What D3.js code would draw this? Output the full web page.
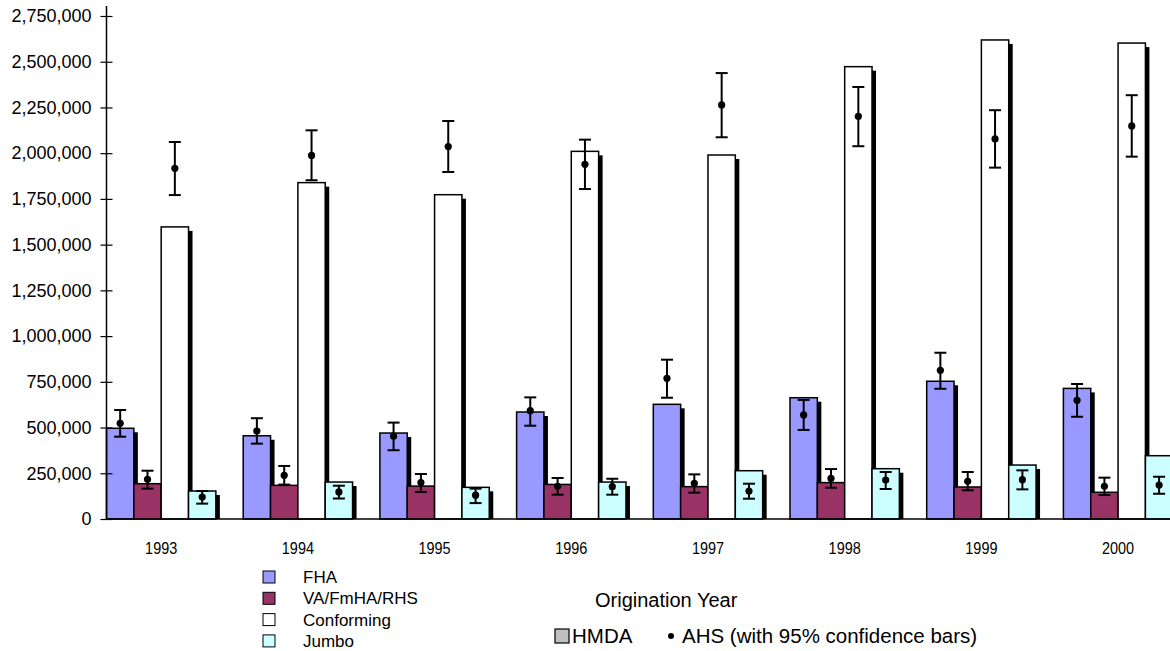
<!DOCTYPE html>
<html><head><meta charset="utf-8">
<script src="https://cdn.jsdelivr.net/npm/d3@7/dist/d3.min.js"></script>
<style>
html,body{margin:0;padding:0;background:#fff;overflow:hidden}
text{font-family:Arial,"Liberation Sans",sans-serif;fill:#000}
</style></head><body>
<svg id="chart" width="1170" height="651"></svg>
<script>
const years = ["1993","1994","1995","1996","1997","1998","1999","2000"];
const seriesNames = ["FHA","VA/FmHA/RHS","Conforming","Jumbo"];
const seriesColors = ["#9999FF","#993366","#FFFFFF","#CCFFFF"];
const yTicks = [0,250000,500000,750000,1000000,1250000,1500000,1750000,2000000,2250000,2500000,2750000];

// HMDA counts (bars)
const hmdaFHA   = [496000, 455000, 470000, 585000, 627000, 663000, 753000, 714000];
const hmdaVA    = [193000, 184000, 180000, 189000, 177000, 199000, 175000, 146000];
const hmdaConf  = [1597000,1839000,1773000,2010000,1990000,2473000,2619000,2602000];
const hmdaJumbo = [153000, 202000, 173000, 202000, 264000, 275000, 295000, 346000];

// AHS estimates (points) with 95% confidence bounds
const ahsFHA     = [523000, 481000, 452000, 592000, 769000, 569000, 813000, 649000];
const ahsFHALo   = [450000, 412000, 376000, 510000, 663000, 487000, 712000, 559000];
const ahsFHAHi   = [596000, 551000, 527000, 665000, 871000, 651000, 909000, 738000];
const ahsVA      = [217000, 239000, 199000, 179000, 195000, 222000, 206000, 179000];
const ahsVALo    = [166000, 188000, 148000, 133000, 144000, 171000, 157000, 131000];
const ahsVAHi    = [264000, 290000, 246000, 224000, 244000, 273000, 257000, 226000];
const ahsConf    = [1917000,1988000,2036000,1939000,2264000,2202000,2078000,2149000];
const ahsConfLo  = [1771000,1852000,1897000,1804000,2087000,2038000,1921000,1981000];
const ahsConfHi  = [2061000,2125000,2176000,2074000,2438000,2362000,2235000,2317000];
const ahsJumbo   = [120000, 148000, 130000, 177000, 153000, 213000, 215000, 186000];
const ahsJumboLo = [84000,  112000, 87000,  133000, 111000, 164000, 162000, 138000];
const ahsJumboHi = [153000, 182000, 166000, 220000, 193000, 257000, 266000, 231000];

const hmda = [hmdaFHA, hmdaVA, hmdaConf, hmdaJumbo];
const ahs = [ahsFHA, ahsVA, ahsConf, ahsJumbo];
const ahsLo = [ahsFHALo, ahsVALo, ahsConfLo, ahsJumboLo];
const ahsHi = [ahsFHAHi, ahsVAHi, ahsConfHi, ahsJumboHi];

const svg = d3.select("#chart");
const plotLeft = 106.5, plotBase = 519, plotTop = 16;
const step = 136.7;

const y = d3.scaleLinear().domain([0, 2750000]).range([plotBase, plotTop]);
const x0 = d3.scaleBand().domain(years).range([plotLeft, plotLeft + step * years.length])
  .paddingInner(0.2).paddingOuter(0.1).align(0);
const x1 = d3.scaleBand().domain(seriesNames).range([0, x0.bandwidth()]).padding(0);

const rows = [];
years.forEach((yr, i) => seriesNames.forEach((s, j) => {
  rows.push({yr, s, j, v: hmda[j][i], a: ahs[j][i], lo: ahsLo[j][i], hi: ahsHi[j][i]});
}));

// bars with drop shadows
const gBars = svg.append("g");
const sh = 4;
rows.forEach(d => {
  const bx = x0(d.yr) + x1(d.s), bw = x1.bandwidth(), by = y(d.v);
  gBars.append("rect").attr("x", bx + sh).attr("y", by + sh)
    .attr("width", bw).attr("height", Math.max(0, plotBase - by - sh)).attr("fill", "#000");
  gBars.append("rect").attr("x", bx).attr("y", by)
    .attr("width", bw).attr("height", plotBase - by)
    .attr("fill", seriesColors[d.j]).attr("stroke", "#000").attr("stroke-width", 1.5);
});

// x baseline
svg.append("line").attr("x1", plotLeft).attr("x2", 1170).attr("y1", plotBase).attr("y2", plotBase)
  .attr("stroke", "#000").attr("stroke-width", 1.5);

// y axis
const yAxis = d3.axisLeft(y).tickValues(yTicks).tickFormat(d3.format(",")).tickSize(0).tickPadding(15);
const ga = svg.append("g").attr("transform", `translate(${plotLeft},0)`).call(yAxis);
ga.select(".domain").remove();
ga.selectAll("text").attr("font-size", 18).style("font-family", "Arial, 'Liberation Sans', sans-serif");
ga.selectAll(".tick").append("line").attr("x1", -6).attr("x2", 6).attr("stroke", "#000").attr("stroke-width", 1.2);
ga.append("line").attr("x1", 0).attr("x2", 0).attr("y1", plotBase).attr("y2", plotTop - 10)
  .attr("stroke", "#000").attr("stroke-width", 1.5);

// error bars and points
const gErr = svg.append("g");
rows.forEach(d => {
  const cx = x0(d.yr) + x1(d.s) + x1.bandwidth() / 2;
  gErr.append("line").attr("x1", cx).attr("x2", cx).attr("y1", y(d.lo)).attr("y2", y(d.hi))
    .attr("stroke", "#000").attr("stroke-width", 2);
  [d.lo, d.hi].forEach(v => gErr.append("line").attr("x1", cx - 6).attr("x2", cx + 6)
    .attr("y1", y(v)).attr("y2", y(v)).attr("stroke", "#000").attr("stroke-width", 2));
  gErr.append("circle").attr("cx", cx).attr("cy", y(d.a)).attr("r", 3.6).attr("fill", "#000");
});

// x labels
years.forEach(yr => {
  const cx = x0(yr) + x0.bandwidth() / 2;
  svg.append("text").attr("transform", `translate(${cx},554) scale(0.85,1)`)
    .attr("text-anchor", "middle").attr("font-size", 17).text(yr);
});

// series legend
const leg = svg.append("g");
seriesNames.forEach((s, j) => {
  const cy = 577 + j * 21.3;
  leg.append("rect").attr("x", 263).attr("y", cy - 6).attr("width", 12).attr("height", 12)
    .attr("fill", seriesColors[j]).attr("stroke", "#000").attr("stroke-width", 1);
  leg.append("text").attr("x", 303).attr("y", cy + 6).attr("font-size", 17).text(s);
});

// axis title
svg.append("text").attr("x", 595).attr("y", 607).attr("font-size", 20).text("Origination Year");

// source legend
svg.append("rect").attr("x", 555).attr("y", 629).attr("width", 14).attr("height", 14)
  .attr("fill", "#C0C0C0").attr("stroke", "#000").attr("stroke-width", 1.2);
svg.append("text").attr("x", 572).attr("y", 643).attr("font-size", 20.5).text("HMDA");
svg.append("circle").attr("cx", 671).attr("cy", 636).attr("r", 3).attr("fill", "#000");
svg.append("text").attr("x", 682).attr("y", 643).attr("font-size", 20.5).text("AHS (with 95% confidence bars)");
</script></body></html>
